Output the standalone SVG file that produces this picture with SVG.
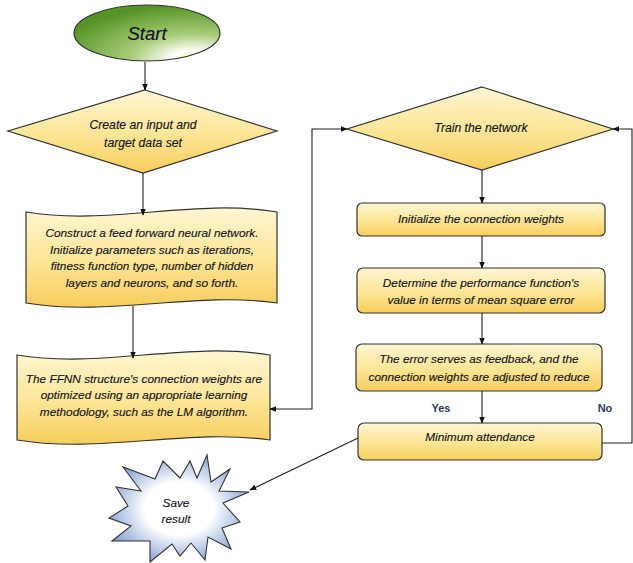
<svg xmlns="http://www.w3.org/2000/svg" width="633" height="563" viewBox="0 0 633 563">
<defs>
<linearGradient id="yel" x1="0" y1="0" x2="0" y2="1">
<stop offset="0" stop-color="#fff6d2"/>
<stop offset="0.55" stop-color="#fde594"/>
<stop offset="1" stop-color="#f7cd5c"/>
</linearGradient>
<radialGradient id="grn" cx="0.82" cy="0.95" r="0.95">
<stop offset="0" stop-color="#fbf27a"/>
<stop offset="0.14" stop-color="#ffffff"/>
<stop offset="0.45" stop-color="#a9cd78"/>
<stop offset="1" stop-color="#559326"/>
</radialGradient>
<radialGradient id="blu" cx="0.5" cy="0.5" r="0.55">
<stop offset="0" stop-color="#ffffff"/>
<stop offset="0.45" stop-color="#ffffff"/>
<stop offset="1" stop-color="#7d9bd3"/>
</radialGradient>
<marker id="ah" viewBox="0 0 10 10" refX="9" refY="5" markerWidth="7" markerHeight="7" orient="auto-start-reverse" markerUnits="userSpaceOnUse">
<path d="M0,1 L10,5 L0,9 Z" fill="#111"/>
</marker>
<style>
.shp{fill:url(#yel);stroke:#333;stroke-width:1.2}
.t{font-family:"Liberation Sans",Arial,sans-serif;font-style:italic;font-size:11.8px;fill:#14141e;text-anchor:middle;stroke:#14141e;stroke-width:0.15}
.c{fill:none;stroke:#222;stroke-width:1.1}
.lbl{font-family:"Liberation Sans",Arial,sans-serif;font-weight:bold;font-size:11px;fill:#2e3d5c;text-anchor:middle}
</style>
</defs>

<g id="start">
<ellipse cx="147" cy="33" rx="73" ry="28" fill="url(#grn)" stroke="#333" stroke-width="1.2"/>
<text x="147" y="40" class="t" style="font-size:18.5px">Start</text>
</g>

<g id="create">
<polygon points="145,90 277,131 143,173 8,131" class="shp"/>
<text x="143" y="129" class="t" style="font-size:12.2px">Create an input and</text>
<text x="143" y="147" class="t" style="font-size:12.2px">target data set</text>
</g>

<g id="construct">
<path d="M26,212 C110,226 194,198 277,212 L277,303 C194,291 110,317 26,303 Z" class="shp"/>
<text x="152" y="237" class="t">Construct a feed forward neural network.</text>
<text x="152" y="254" class="t">Initialize parameters such as iterations,</text>
<text x="152" y="270" class="t">fitness function type, number of hidden</text>
<text x="152" y="287" class="t">layers and neurons, and so forth.</text>
</g>

<g id="ffnn">
<path d="M17,355 C101,369 186,341 270,355 L270,440 C186,428 101,454 17,440 Z" class="shp"/>
<text x="144" y="383" class="t">The FFNN structure's connection weights are</text>
<text x="144" y="399" class="t">optimized using an appropriate learning</text>
<text x="144" y="416" class="t">methodology, such as the LM algorithm.</text>
</g>

<g id="train">
<polygon points="482,87 613,129 482,170 347,129" class="shp"/>
<text x="481" y="132" class="t" style="font-size:12.2px">Train the network</text>
</g>

<g id="init">
<rect x="357" y="203" width="248" height="33" rx="5" class="shp"/>
<text x="481" y="223" class="t">Initialize the connection weights</text>
</g>

<g id="perf">
<rect x="357" y="268" width="248" height="45" rx="6" class="shp"/>
<text x="481" y="287" class="t">Determine the performance function's</text>
<text x="481" y="304" class="t">value in terms of mean square error</text>
</g>

<g id="error">
<rect x="356" y="344" width="246" height="47" rx="6" class="shp"/>
<text x="479" y="363" class="t">The error serves as feedback, and the</text>
<text x="479" y="381" class="t">connection weights are adjusted to reduce</text>
</g>

<g id="minimum">
<rect x="358" y="423" width="244" height="37" rx="6" class="shp"/>
<text x="480" y="441" class="t">Minimum attendance</text>
</g>

<g id="save">
<polygon points="207,455 211,482 230,469 219,491 249,492 223,503 240,522 222,528 231,549 208,537 205,560 191,543 180,556 172,544 150,562 150,541 112,541 131,526 109,518 128,506 116,487 141,491 123,467 155,479 163,461 180,478 190,461 197,478" fill="url(#blu)" stroke="#333" stroke-width="1.1"/>
<text x="176" y="507" class="t">Save</text>
<text x="176" y="523" class="t">result</text>
</g>

<g id="connectors">
<path d="M145,62 V90" class="c" marker-end="url(#ah)"/>
<path d="M143,173 V215" class="c" marker-end="url(#ah)"/>
<path d="M133,306 V358" class="c" marker-end="url(#ah)"/>
<path d="M270,409 H312 V129 H347" class="c" marker-start="url(#ah)" marker-end="url(#ah)"/>
<path d="M602,443 H632 V129 H613" class="c" marker-end="url(#ah)"/>
<path d="M482,170 V203" class="c" marker-end="url(#ah)"/>
<path d="M482,236 V268" class="c" marker-end="url(#ah)"/>
<path d="M482,313 V344" class="c" marker-end="url(#ah)"/>
<path d="M482,391 V423" class="c" marker-end="url(#ah)"/>
<path d="M358,438 L250,490" class="c" marker-end="url(#ah)"/>
<text x="441" y="412" class="lbl">Yes</text>
<text x="605" y="412" class="lbl">No</text>
</g>
</svg>
